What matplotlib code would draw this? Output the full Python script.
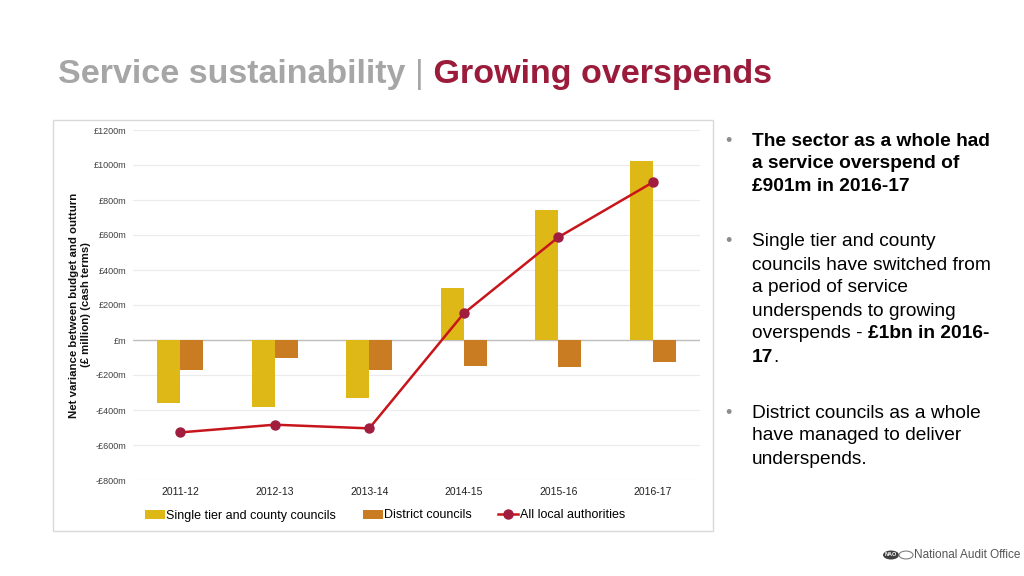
import matplotlib
matplotlib.use("Agg")
import matplotlib.pyplot as plt
from matplotlib.patches import Rectangle, Circle

plt.rcParams['font.family'] = ['Liberation Sans', 'DejaVu Sans']

categories = ["2011-12", "2012-13", "2013-14", "2014-15", "2015-16", "2016-17"]
single_tier = [-358, -381, -331, 299, 741, 1020]
district = [-170, -101, -170, -150, -156, -124]
all_la = [-528, -484, -505, 152, 587, 901]
y_ticks = [-800, -600, -400, -200, 0, 200, 400, 600, 800, 1000, 1200]
y_tick_labels = ["-£800m", "-£600m", "-£400m", "-£200m", "£m", "£200m", "£400m",
                 "£600m", "£800m", "£1000m", "£1200m"]

fig = plt.figure(figsize=(10.24, 5.76), dpi=100)
fig.patch.set_facecolor("white")

# outer chart border
fig.patches.append(Rectangle((53/1024, 1-531/576), 660/1024, 411/576,
                             transform=fig.transFigure, fill=False,
                             edgecolor="#d9d9d9", linewidth=1))

ax = fig.add_axes([133/1024, 1-480/576, 567/1024, 350/576])
x = list(range(len(categories)))
w = 0.245
b1 = ax.bar([i - w/2 for i in x], single_tier, width=w, color="#DEB816",
            label="Single tier and county councils", zorder=2)
b2 = ax.bar([i + w/2 for i in x], district, width=w, color="#C97C22",
            label="District councils", zorder=2)
l1, = ax.plot(x, all_la, color="#C8151B", linewidth=1.8, marker="o", markersize=6.5,
              markerfacecolor="#A11D3E", markeredgecolor="#A11D3E",
              label="All local authorities", zorder=3)

ax.set_xlim(-0.5, 5.5)
ax.set_ylim(-800, 1200)
ax.set_yticks(y_ticks)
ax.set_yticklabels(y_tick_labels, fontsize=6.5, color="#404040")
ax.set_xticks(x)
ax.set_xticklabels(categories, fontsize=7.5, color="#202020")
ax.tick_params(length=0, pad=5)
ax.tick_params(axis='x', pad=5)
for s in ax.spines.values():
    s.set_visible(False)
ax.grid(axis='y', color="#ebebeb", linewidth=0.8, zorder=0)
ax.axhline(0, color="#bfbfbf", linewidth=1, zorder=1)
ax.set_axisbelow(True)

ax.set_ylabel("Net variance between budget and outturn\n(£ million) (cash terms)",
              fontsize=8.2, fontweight="bold", color="#111111",
              linespacing=1.2)
ax.yaxis.set_label_coords((80 - 133) / 567, (1 - 305/576 - (1-480/576)) / (350/576),
                          transform=ax.transAxes)
ax.yaxis.label.set_va("center")

leg = ax.legend([b1, b2, l1],
                ["Single tier and county councils", "District councils",
                 "All local authorities"],
                loc="center", bbox_to_anchor=((385 - 133) / 567, -35.5/350),
                ncol=3, frameon=False, fontsize=9, handlelength=1.6,
                handletextpad=0.15, columnspacing=2.1)

# Title
ty = 1 - 74/576
t1 = fig.text(58/1024, ty, "Service sustainability ", fontsize=24.5,
              fontweight="bold", color="#A6A6A6", va="center", ha="left")
fig.canvas.draw()
r = fig.canvas.get_renderer()
bb = t1.get_window_extent(renderer=r)
t2 = fig.text(bb.x1/1024, ty, "|", fontsize=24.5, fontweight="normal",
              color="#A6A6A6", va="center", ha="left")
fig.canvas.draw()
bb = t2.get_window_extent(renderer=r)
fig.text(bb.x1/1024, ty, " Growing overspends", fontsize=24.5,
         fontweight="bold", color="#9B1B3B", va="center", ha="left")

# Right-hand text
bx = 728/1024
tx = 752/1024
fs = 13.8
def line(y, s, bold=False):
    return fig.text(tx, 1-y/576, s, fontsize=fs, va="center", ha="left",
                    fontweight="bold" if bold else "normal", color="#000000")

for yb in [141, 242, 413]:
    fig.text(bx, 1-yb/576, "•", fontsize=13, color="#8c8c8c", va="center", ha="center")

line(141, "The sector as a whole had", True)
line(164, "a service overspend of", True)
line(186, "£901m in 2016-17", True)

line(242, "Single tier and county")
line(265, "councils have switched from")
line(288, "a period of service")
line(311, "underspends to growing")
tt = line(334, "overspends - ")
fig.canvas.draw()
bb = tt.get_window_extent(renderer=fig.canvas.get_renderer())
fig.text(bb.x1/1024, 1-334/576, "£1bn in 2016-", fontsize=fs, va="center",
         ha="left", fontweight="bold")
t17 = fig.text(tx, 1-357/576, "17", fontsize=fs, va="center", ha="left",
               fontweight="bold")
fig.canvas.draw()
bb = t17.get_window_extent(renderer=fig.canvas.get_renderer())
fig.text(bb.x1/1024, 1-357/576, ".", fontsize=fs, va="center", ha="left")

line(413, "District councils as a whole")
line(436, "have managed to deliver")
line(459, "underspends.")

# Logo
fig.patches.append(Circle((891/1024, 1-555/576), 8/1024, transform=fig.transFigure,
                          facecolor="#404040", edgecolor="none"))
fig.text(891/1024, 1-555/576, "NAO", fontsize=4, color="white", ha="center",
         va="center", fontweight="bold")
fig.patches.append(Circle((906/1024, 1-555/576), 7/1024, transform=fig.transFigure,
                          facecolor="white", edgecolor="#808080", linewidth=0.8))
fig.text(914/1024, 1-555/576, "National Audit Office", fontsize=8.5, color="#555555",
         ha="left", va="center")

fig.savefig("out.png", dpi=100)
